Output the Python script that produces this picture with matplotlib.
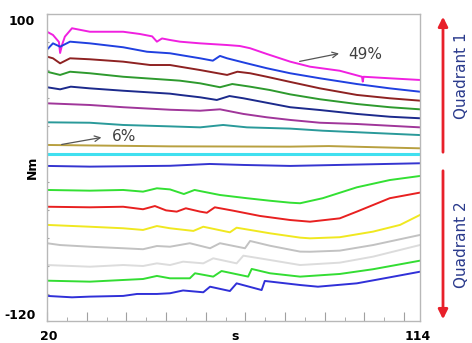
import matplotlib
matplotlib.use("Agg")
import matplotlib.pyplot as plt
from matplotlib.transforms import blended_transform_factory
from matplotlib.ticker import MultipleLocator

# ---- traces, top to bottom (s, Nm) ----
magenta_x = [20, 21.5, 23.0, 23.3, 23.8, 24.5, 26.3, 30.8, 39.2, 43.4, 46.5, 47.7, 49, 51, 53.5,
             58.6, 65.4, 68.6, 71.2, 75.4, 81.3, 86.3, 93.8, 99.4, 99.6, 99.8, 106.4, 114]
magenta_y = [87.3, 85.0, 80, 72.1, 78, 83.8, 89.8, 87.3, 87.3, 85.7, 84, 80.2, 82.5, 81.4, 80.2,
             79.0, 77.8, 77.1, 75.5, 71.4, 65.9, 62.3, 59.4, 55.1, 51.6, 55.1, 54.0, 52.8]

blue1_x = [20, 21.5, 23.3, 25.8, 30.8, 39.2, 45.2, 51, 53.5, 58.6, 61.8, 63.6, 65.4, 70.4, 75.4,
           81.3, 88.8, 98.1, 106.4, 114]
blue1_y = [74.5, 79.0, 76.6, 80.2, 79.0, 76.2, 73.0, 71.9, 70.7, 68.3, 66.6, 70.0, 68.3, 64.7, 61.2,
           57.6, 54.0, 49.9, 46.8, 44.4]

brown_x = [20, 21.5, 23.3, 25.8, 30.8, 39.2, 46, 51, 53.5, 58.6, 65.4, 68, 71.2, 75.4, 81.3,
           88.8, 98.1, 106.4, 114]
brown_y = [69.5, 68.3, 64.7, 68.3, 67.6, 65.9, 63.5, 63.5, 62.3, 59.9, 56.4, 58.7, 57.6, 55.1, 51.4,
           46.8, 42.1, 39.7, 38.0]

green1_x = [20, 23.3, 25.8, 30.8, 39.2, 51, 53.5, 58.6, 63.6, 66.7, 71.2, 76.2, 81.3, 88.8, 98.1,
            106.4, 114]
green1_y = [58.7, 56.4, 58.7, 57.6, 55.1, 52.8, 52.3, 50.4, 47.6, 49.9, 48.0, 45.6, 42.5, 39.0, 35.6,
            33.3, 31.8]

navy_x = [20, 23.3, 26, 30.8, 39.2, 51, 53.5, 58.6, 62.8, 66, 69.5, 75.4, 81.3, 88.8, 98.1, 106.4, 114]
navy_y = [47.6, 46.1, 48.0, 46.8, 45.1, 43.0, 42.1, 40.4, 38.5, 41.3, 39.7, 36.5, 33.3, 31.3, 28.5,
          26.5, 25.4]

purple_x = [20, 30.8, 39.2, 51, 58.6, 63.6, 69.5, 75.4, 81.3, 88.8, 98.1, 114]
purple_y = [36.1, 34.9, 33.3, 31.5, 30.8, 31.8, 28.5, 26.1, 24.2, 22.2, 21.3, 18.9]

teal_x = [20, 30.8, 39.2, 51, 58.6, 64.4, 70.4, 81.3, 89.5, 114]
teal_y = [22.5, 22.2, 20.6, 19.6, 18.9, 20.6, 18.9, 18.0, 16.5, 13.4]

olive_x = [20, 51, 81.3, 91, 114]
olive_y = [6.3, 5.3, 5.1, 5.5, 3.9]

cyan_x = [20, 114]
cyan_y = [0, 0]

blue2_x = [20, 30.8, 51, 61, 69.5, 81.3, 114]
blue2_y = [-8.7, -9.2, -8.6, -7.3, -8.0, -8.7, -6.8]

green2_x = [20, 30.8, 39.2, 44.2, 47.7, 51, 54.5, 57.2, 63.6, 70.4, 76.2, 81.3, 83.8, 89.5, 98.1,
            106.4, 114]
green2_y = [-25.9, -26.4, -25.9, -27.1, -24.7, -25.5, -28.8, -25.9, -29.5, -31.8, -33.6, -35.0, -35.4,
            -31.8, -24.0, -18.8, -15.9]

red_x = [20, 30.8, 39.2, 44.2, 47.2, 50, 52.7, 55, 58.6, 60.3, 62.3, 66.9, 73.7, 81.3, 86.3, 93.8,
         98.1, 106.4, 114]
red_y = [-37.9, -38.3, -37.9, -39.7, -37.4, -40.5, -41.4, -39.0, -41.4, -42.2, -38.3, -40.7, -44.5,
         -47.4, -48.6, -46.2, -41.4, -31.8, -27.8]

yellow_x = [20, 30.8, 39.2, 44.2, 47.7, 51, 56.9, 59.4, 66.1, 67.8, 76.2, 83.8, 86.3, 93.8, 102.2,
            109, 114]
yellow_y = [-50.9, -52.2, -53.3, -54.5, -51.7, -53.3, -55.2, -52.2, -56.2, -52.9, -56.9, -60.0, -60.5,
            -59.7, -55.7, -50.9, -43.8]

grey1_x = [20, 23.3, 30.8, 39.2, 44.2, 47.7, 51, 56.0, 61.1, 63.6, 69.9, 71.2, 76.2, 83.8, 86.3,
           93.8, 102.2, 114]
grey1_y = [-64.0, -65.3, -66.5, -67.6, -68.3, -66.0, -66.5, -64.0, -67.6, -64.0, -67.6, -62.4, -65.8,
           -70.0, -70.1, -69.3, -65.3, -58.1]

grey2_x = [20, 30.8, 39.2, 44.2, 47.7, 51, 54.3, 59.4, 61.9, 67.8, 69.5, 76.2, 83.8, 93.8, 102.2, 114]
grey2_y = [-79.6, -80.8, -79.6, -80.3, -78.4, -79.6, -77.2, -78.4, -74.8, -78.4, -72.9, -76.0, -79.6,
           -77.9, -73.6, -65.3]

green3_x = [20, 30.8, 39.2, 44.2, 47.7, 51, 56.0, 57.3, 61.9, 64.0, 70.7, 71.6, 76.2, 83.8, 93.8,
            102.2, 114]
green3_y = [-90.8, -91.5, -90.3, -89.6, -87.4, -89.1, -89.1, -85.5, -87.9, -83.9, -87.9, -82.4, -85.5,
            -87.9, -86.0, -82.6, -76.5]

blue3_x = [20, 26.3, 30.8, 39.2, 42.7, 47.7, 51, 54.3, 59.4, 61.1, 66.1, 67.8, 74.1, 74.9, 83.8,
           88.3, 98.1, 106.4, 114]
blue3_y = [-101.7, -102.7, -102.2, -101.7, -100.3, -100.3, -99.8, -97.8, -99.1, -95.1, -98.2, -92.7,
           -97.5, -91.0, -93.9, -95.1, -92.7, -88.4, -84.4]

traces = [
    (magenta_x, magenta_y, '#f020e0'),
    (blue1_x, blue1_y, '#2040e0'),
    (brown_x, brown_y, '#8e2222'),
    (green1_x, green1_y, '#2e9a2e'),
    (navy_x, navy_y, '#1c2a8c'),
    (purple_x, purple_y, '#a0369a'),
    (teal_x, teal_y, '#2a9a9a'),
    (olive_x, olive_y, '#b8a040'),
    (blue2_x, blue2_y, '#3535d0'),
    (green2_x, green2_y, '#33e033'),
    (red_x, red_y, '#e82020'),
    (yellow_x, yellow_y, '#f0e820'),
    (grey1_x, grey1_y, '#c2c2c2'),
    (grey2_x, grey2_y, '#dcdcdc'),
    (green3_x, green3_y, '#33dd33'),
    (blue3_x, blue3_y, '#3030d8'),
]

fig = plt.figure(figsize=(4.72, 3.43), dpi=100)
ax = fig.add_axes([0.0996, 0.0627, 0.790, 0.8965])

for xs, ys, col in traces:
    ax.plot(xs, ys, color=col, lw=1.4)
ax.plot(cyan_x, cyan_y, color='#40e0f0', lw=2.2)

ax.set_xlim(20, 114)
ax.set_ylim(-120, 100)
for sp in ax.spines.values():
    sp.set_color('#b8b8b8')
    sp.set_linewidth(1)

ax.xaxis.set_major_locator(MultipleLocator(10))
ax.xaxis.set_minor_locator(MultipleLocator(5))
ax.yaxis.set_major_locator(MultipleLocator(20))
ax.tick_params(axis='x', which='major', direction='in', length=6.5, color='#a0a0a0', labelbottom=False)
ax.tick_params(axis='x', which='minor', direction='in', length=3, color='#a0a0a0')
ax.tick_params(axis='y', which='major', direction='in', length=1.5, color='#a0a0a0', labelleft=False)

bold = dict(fontsize=9, fontweight='bold', color='black')
ytr = blended_transform_factory(ax.transAxes, ax.transData)
ax.text(-0.032, 94.3, '100', transform=ytr, ha='right', va='center', **bold)
ax.text(-0.030, -115.7, '-120', transform=ytr, ha='right', va='center', **bold)
xtr = blended_transform_factory(ax.transData, ax.transAxes)
ax.text(20.4, -0.05, '20', transform=xtr, ha='center', va='center', **bold)
ax.text(67.5, -0.05, 's', transform=xtr, ha='center', va='center', **bold)
ax.text(113.5, -0.05, '114', transform=xtr, ha='center', va='center', **bold)
ax.text(-0.04, -10, 'Nm', transform=ytr, ha='center', va='center', rotation=90, **bold)

# annotations
ax.annotate('', xy=(94.3, 72.1), xytext=(83.0, 65.7),
            arrowprops=dict(arrowstyle='->', color='#555555', lw=0.9))
ax.text(95.9, 70.7, '49%', ha='left', va='center', fontsize=11, color='#404040')
ax.annotate('', xy=(34.4, 12.0), xytext=(23.0, 6.3),
            arrowprops=dict(arrowstyle='->', color='#555555', lw=0.9))
ax.text(36.4, 12.0, '6%', ha='left', va='center', fontsize=11, color='#404040')

# quadrant arrows on the right
fig.add_artist(matplotlib.patches.FancyArrowPatch(
    (443 / 472, 1 - 155 / 343), (443 / 472, 1 - 14 / 343), transform=fig.transFigure,
    arrowstyle='-|>', mutation_scale=14, color='#e8202a', lw=2))
fig.add_artist(matplotlib.patches.FancyArrowPatch(
    (443 / 472, 1 - 168 / 343), (443 / 472, 1 - 322 / 343), transform=fig.transFigure,
    arrowstyle='-|>', mutation_scale=14, color='#e8202a', lw=2))
fig.text(462 / 472, 1 - 76 / 343, 'Quadrant 1', rotation=90, ha='center', va='center',
         fontsize=11, color='#2a3a8c')
fig.text(462 / 472, 1 - 245 / 343, 'Quadrant 2', rotation=90, ha='center', va='center',
         fontsize=11, color='#2a3a8c')

fig.savefig('out.png', dpi=100)
